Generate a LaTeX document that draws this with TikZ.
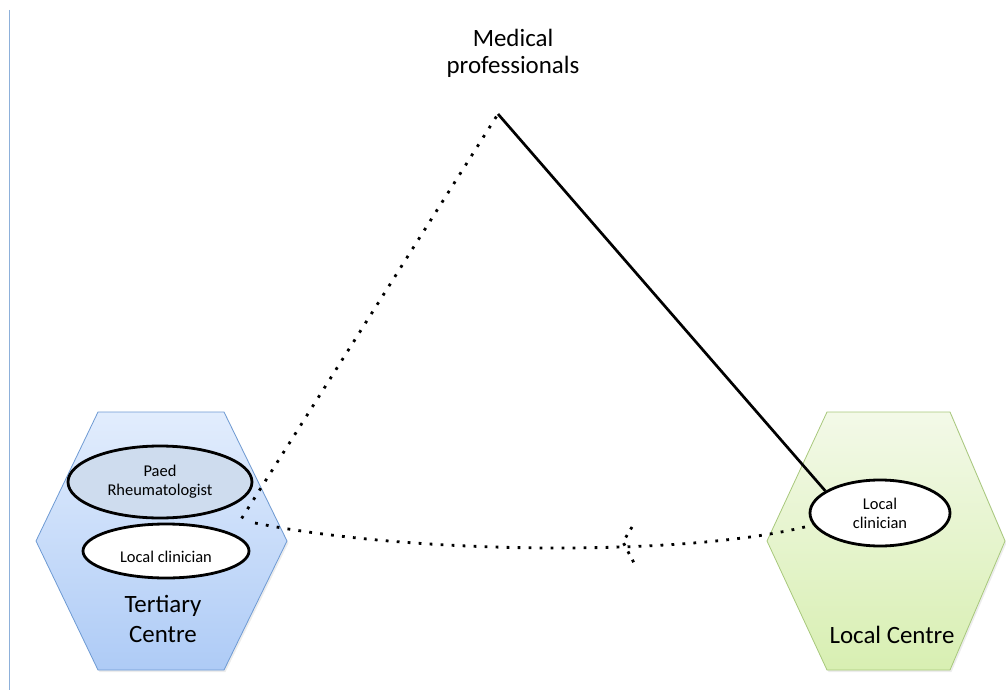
\documentclass[tikz,border=0pt]{standalone}
\usepackage{fontspec}
\setmainfont{Carlito}
\usetikzlibrary{shapes.geometric,shadows,calc}

\definecolor{tertTop}{HTML}{E2EDFD}
\definecolor{tertBot}{HTML}{AECBF6}
\definecolor{tertEdge}{HTML}{6E9AD3}
\definecolor{locTop}{HTML}{F3F9E8}
\definecolor{locBot}{HTML}{D8EFB2}
\definecolor{locEdge}{HTML}{A8C87C}
\definecolor{paedFill}{HTML}{CEDCEE}
\definecolor{frameLine}{HTML}{8DB0DA}

\begin{document}
\begin{tikzpicture}[x=1bp,y=-1bp,
  hexbox/.style={line width=0.8bp,
    drop shadow={shadow xshift=1.5bp, shadow yshift=-2bp, opacity=0.15}},
  roleoval/.style={ellipse, draw=black, line width=2.8bp, inner sep=0pt,
    align=center, font=\fontsize{16.5}{19}\selectfont},
  ovaltext/.style={font=\fontsize{16.5}{19}\selectfont, align=center},
  centrelabel/.style={font=\fontsize{25}{31}\selectfont, align=center},
  dotline/.style={line width=2.8bp, dash pattern=on 2.8bp off 8.2bp},
  solidline/.style={line width=2.7bp}]

\useasboundingbox (0,0) rectangle (1006,693);

% page frame line on the left
\draw[frameLine, line width=0.8bp] (9,10) -- (9,690);

% the two centres
\path[hexbox, draw=tertEdge, top color=tertTop, bottom color=tertBot]
  (98,412) -- (224,412) -- (287,541) -- (224,670) -- (98,670) -- (36,541) -- cycle;
\path[hexbox, draw=locEdge, top color=locTop, bottom color=locBot]
  (827,412) -- (950,412) -- (1005,541) -- (950,670) -- (827,670) -- (767,541) -- cycle;

% labels
\node[centrelabel, font=\fontsize{25}{27}\selectfont] (prof) at (513,53) {Medical\\professionals};
\node[centrelabel] (tertLabel) at (163,619) {Tertiary\\Centre};
\node[centrelabel, anchor=base] (localLabel) at (892,643) {Local Centre};

% clinicians
\node[roleoval, fill=paedFill, minimum width=184bp, minimum height=72bp]
  (paed) at (160,482) {Paed\\Rheumatologist};
\node[roleoval, fill=white, minimum width=166bp, minimum height=54bp]
  (tertGP) at (166,551) {};
\node[ovaltext] (tertGPtext) at (166,557) {Local clinician};
\node[roleoval, fill=white, minimum width=140bp, minimum height=66bp]
  (localGP) at (880,513) {Local\\clinician};

% connectors
\coordinate (apex) at (498,114);
\coordinate (tipA) at (240,521);
\coordinate (tipB) at (255,523);
\coordinate (kink) at (623,542);

\draw[solidline] (apex) -- (localGP.158);
\draw[dotline, dash phase=-3bp] (apex) -- (tipA);
\draw[dotline] (tipB) .. controls (420,556) and (700,556) .. (localGP.190);
\draw[dotline, dash pattern=on 2.8bp off 6.6bp]
  ($(kink)+(9,-15)$) -- (kink) -- ($(kink)+(11,21)$);

\end{tikzpicture}
\end{document}
